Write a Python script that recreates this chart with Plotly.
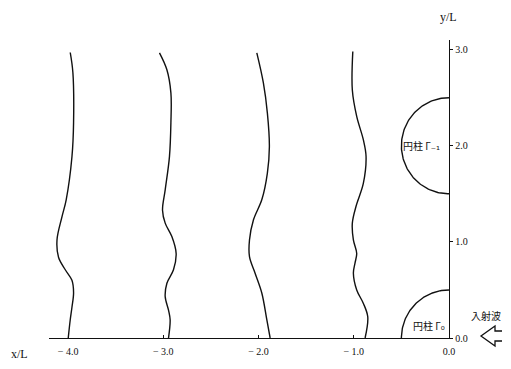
import numpy as np
import plotly.graph_objects as go

# Wave-crest lines (x/L, y/L)
c1_x = [-3.977, -3.949, -3.942, -3.959, -4.019, -4.064, -4.116, -4.100, -4.029, -3.959, -3.942, -3.959, -3.977, -3.998]
c1_y = [2.97, 2.76, 2.24, 1.885, 1.44, 1.26, 1.02, 0.84, 0.71, 0.60, 0.47, 0.32, 0.19, 0.0]
c2_x = [-3.040, -2.962, -2.920, -2.920, -2.935, -2.980, -3.008, -2.980, -2.910, -2.865, -2.893, -2.962, -2.980, -2.945, -2.928, -2.945]
c2_y = [2.966, 2.79, 2.55, 2.24, 1.89, 1.54, 1.33, 1.195, 1.055, 0.88, 0.71, 0.57, 0.43, 0.29, 0.19, 0.0]
c3_x = [-2.018, -1.949, -1.907, -1.886, -1.907, -1.965, -2.053, -2.095, -2.095, -2.036, -1.965, -1.913, -1.878]
c3_y = [2.966, 2.653, 2.34, 1.99, 1.716, 1.44, 1.23, 1.02, 0.846, 0.674, 0.466, 0.19, 0.0]
c4_x = [-1.010, -1.015, -0.969, -0.899, -0.871, -0.899, -0.976, -1.015, -1.004, -0.969, -0.987, -1.004, -0.969, -0.899, -0.853, -0.881]
c4_y = [2.98, 2.58, 2.305, 2.06, 1.89, 1.61, 1.37, 1.195, 1.02, 0.88, 0.78, 0.674, 0.5, 0.36, 0.22, 0.0]

# Cylinders: centres and radius
cyl_cx = [0.0, 0.0]
cyl_cy = [2.0, 0.0]
cyl_r = [0.5, 0.5]
cyl_labels = ["円柱 Γ₋₁", "円柱 Γ₀"]

x_ticks = [-4, -3, -2, -1, 0]
x_ticklabels = ["− 4.0", "− 3.0", "− 2.0", "− 1.0", "0.0"]
y_ticks = [0, 1, 2, 3]
y_ticklabels = ["0.0", "1.0", "2.0", "3.0"]

serif = "Liberation Serif, DejaVu Serif, serif"
cjk = "Noto Sans CJK JP, DejaVu Sans, serif"
ink = "#111111"

fig = go.Figure()
for xs, ys in [(c1_x, c1_y), (c2_x, c2_y), (c3_x, c3_y), (c4_x, c4_y)]:
    fig.add_trace(go.Scatter(x=xs, y=ys, mode="lines",
                             line=dict(color=ink, width=1.4, shape="spline", smoothing=1.0),
                             hoverinfo="skip", showlegend=False))

# cylinder outlines (left of x=0, above y=0)
th1 = np.linspace(np.pi / 2, 3 * np.pi / 2, 120)
fig.add_trace(go.Scatter(x=cyl_cx[0] + cyl_r[0] * np.cos(th1), y=cyl_cy[0] + cyl_r[0] * np.sin(th1),
                         mode="lines", line=dict(color=ink, width=1.4), showlegend=False, hoverinfo="skip"))
th2 = np.linspace(np.pi / 2, np.pi, 80)
fig.add_trace(go.Scatter(x=cyl_cx[1] + cyl_r[1] * np.cos(th2), y=cyl_cy[1] + cyl_r[1] * np.sin(th2),
                         mode="lines", line=dict(color=ink, width=1.4), showlegend=False, hoverinfo="skip"))

fig.add_annotation(x=-0.29, y=2.0, text=cyl_labels[0], showarrow=False,
                   font=dict(family=cjk, size=10, color=ink))
fig.add_annotation(x=-0.21, y=0.135, text=cyl_labels[1], showarrow=False,
                   font=dict(family=cjk, size=10, color=ink))

# window-pixel helpers (page body has an 8px margin; plot area spans x 49..449, y 40..338)
def P(px):
    return (px - 49) / 400.0

def Q(py):
    return (338 - py) / 298.0

# axis titles
fig.add_annotation(xref="paper", yref="paper", x=P(9), y=Q(354), xanchor="left", yanchor="middle",
                   text="x/L", showarrow=False, font=dict(family=serif, size=12, color=ink))
fig.add_annotation(xref="paper", yref="paper", x=P(438), y=Q(17), xanchor="left", yanchor="middle",
                   text="y/L", showarrow=False, font=dict(family=serif, size=12, color=ink))
# incident wave label and arrow
fig.add_annotation(xref="paper", yref="paper", x=P(503), y=Q(315), xanchor="right", yanchor="middle",
                   text="入射波", showarrow=False, font=dict(family=cjk, size=10, color=ink))

path = (f"M {P(502)},{Q(331)} L {P(495)},{Q(331)} L {P(495)},{Q(326)} L {P(481)},{Q(336)} "
        f"L {P(495)},{Q(346)} L {P(495)},{Q(341)} L {P(502)},{Q(341)}")
fig.add_shape(type="path", xref="paper", yref="paper", path=path, line=dict(color=ink, width=1.3))

fig.update_layout(
    width=495, height=353,
    margin=dict(l=41, r=54, t=32, b=23),
    paper_bgcolor="white", plot_bgcolor="white",
    font=dict(family=serif, size=10, color=ink),
    xaxis=dict(range=[-4.2, 0], showgrid=False, zeroline=False, showline=True, linecolor=ink,
               linewidth=1.3, tickmode="array", tickvals=x_ticks, ticktext=x_ticklabels,
               ticks="inside", ticklen=3, tickcolor=ink, tickfont=dict(family=serif, size=10),
               ticklabelstandoff=4, automargin=False, fixedrange=True),
    yaxis=dict(range=[0, 3.1], side="right", anchor="x", position=1, showgrid=False, zeroline=False,
               showline=True, linecolor=ink, linewidth=1.3, tickmode="array", tickvals=y_ticks,
               ticktext=y_ticklabels, ticks="outside", ticklen=3, tickcolor=ink,
               tickfont=dict(family=serif, size=10), automargin=False, fixedrange=True),
)

fig.write_html("out.html")
